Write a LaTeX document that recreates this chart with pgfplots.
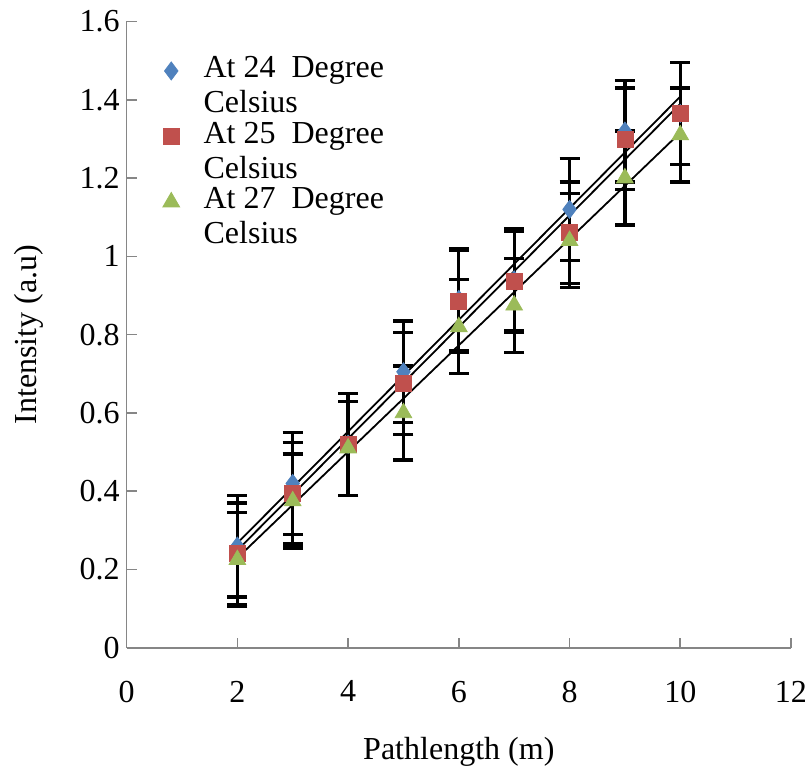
\documentclass[border=0pt]{standalone}
\usepackage{pgfplots}
\usepackage{pgfplotstable}
\pgfplotsset{compat=1.18}
\usepackage{fontspec}
\setmainfont{Liberation Serif}
\definecolor{sblue}{HTML}{4F81BD}
\definecolor{sred}{HTML}{C0504D}
\definecolor{sgreen}{HTML}{9BBB59}
\definecolor{axgrey}{HTML}{868686}

\pgfplotstableread{
x y e
2 0.26 0.13
3 0.42 0.13
4 0.52 0.13
5 0.705 0.13
6 0.89 0.13
7 0.94 0.13
8 1.12 0.13
9 1.32 0.13
10 1.365 0.13
}\tblA
\pgfplotstableread{
x y e
2 0.24 0.13
3 0.395 0.13
4 0.52 0.13
5 0.675 0.13
6 0.885 0.13
7 0.935 0.13
8 1.06 0.13
9 1.30 0.13
10 1.365 0.13
}\tblB
\pgfplotstableread{
x y e
2 0.225 0.12
3 0.375 0.12
4 0.51 0.12
5 0.60 0.12
6 0.82 0.12
7 0.875 0.12
8 1.04 0.12
9 1.20 0.12
10 1.31 0.12
}\tblC

\newcommand{\lent}[1]{\begin{tabular}[t]{@{}l@{}}#1\end{tabular}}

\begin{document}
\begin{tikzpicture}
\begin{axis}[
  scale only axis,
  width=332pt, height=313pt,
  xmin=0, xmax=12, ymin=0, ymax=1.6,
  xtick={0,2,...,12},
  ytick={0,0.2,...,1.6},
  axis lines=left,
  axis line style={axgrey, line width=0.8pt, -},
  tick style={axgrey, line width=0.8pt},
  tick align=inside,
  major tick length=5pt,
  /pgf/number format/assume math mode=true,
  yticklabel style={/pgf/number format/fixed, /pgf/number format/precision=1},
  ticklabel style={font=\rmfamily\fontsize{16}{18}\selectfont},
  xticklabel style={yshift=-13pt, inner xsep=0pt},
  label style={font=\rmfamily\fontsize{16}{18}\selectfont},
  xlabel={Pathlength (m)},
  ylabel={Intensity (a.u)},
  xlabel style={yshift=-13pt, inner ysep=1pt},
  ylabel style={yshift=11pt},
  legend style={draw=none, fill=none, at={(0.045,0.963)}, anchor=north west,
    font=\rmfamily\fontsize{16}{17.5}\selectfont, row sep=15pt,
    cells={anchor=base west},
    /tikz/every odd column/.append style={column sep=10pt}},
  legend image post style={yshift=0.33em},
  error bars/y dir=both, error bars/y explicit,
  error bars/error bar style={black, line width=1.6pt},
  error bars/error mark options={black, rotate=90, mark size=5pt, line width=1.6pt},
]
\addplot[only marks, mark=diamond*, mark size=4.5pt, sblue, mark options={draw=sblue, fill=sblue}]
  table[x=x, y=y, y error=e] {\tblA};
\addlegendentry{\lent{At 24\ \ Degree\\Celsius}}
\addplot[only marks, mark=square*, mark size=4pt, sred, mark options={draw=sred, fill=sred}]
  table[x=x, y=y, y error=e] {\tblB};
\addlegendentry{\lent{At 25\ \ Degree\\Celsius}}
\addplot[only marks, mark=triangle*, mark size=4.8pt, sgreen, mark options={draw=sgreen, fill=sgreen}]
  table[x=x, y=y, y error=e] {\tblC};
\addlegendentry{\lent{At 27\ \ Degree\\Celsius}}

\addplot[forget plot, no marks, black, line width=0.9pt, error bars/y dir=none]
  table[x=x, y={create col/linear regression={y=y}}] {\tblA};
\addplot[forget plot, no marks, black, line width=0.9pt, error bars/y dir=none]
  table[x=x, y={create col/linear regression={y=y}}] {\tblB};
\addplot[forget plot, no marks, black, line width=0.9pt, error bars/y dir=none]
  table[x=x, y={create col/linear regression={y=y}}] {\tblC};
\end{axis}
\path ([xshift=-4pt]current bounding box.west);
\path ([yshift=2pt]current bounding box.north);
\end{tikzpicture}
\end{document}
